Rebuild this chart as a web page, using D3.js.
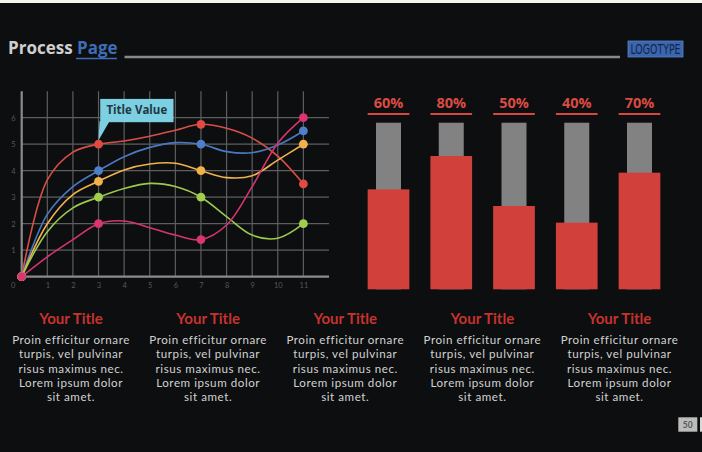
<!DOCTYPE html>
<html><head><meta charset="utf-8">
<script src="https://cdn.jsdelivr.net/npm/d3@7"></script>
<style>html,body{margin:0;padding:0;background:#0d0e10;overflow:hidden}</style>
</head><body><svg id="c" width="702" height="452"></svg>
<script>
// ---------- data ----------
const xValues = [0,1,2,3,4,5,6,7,8,9,10,11];
const redValues    = [0, 3.65, 4.7, 5.0, 5.12, 5.3, 5.53, 5.75, 5.6, 5.23, 4.55, 3.5];
const blueValues   = [0, 2.35, 3.4, 4.0, 4.53, 4.88, 5.06, 5.0, 4.72, 4.68, 4.97, 5.5];
const orangeValues = [0, 2.0, 3.1, 3.6, 4.03, 4.25, 4.28, 4.0, 3.74, 3.81, 4.4, 5.0];
const greenValues  = [0, 1.7, 2.6, 3.0, 3.33, 3.52, 3.4, 3.0, 2.27, 1.57, 1.45, 2.0];
const pinkValues   = [0, 0.75, 1.4, 2.0, 2.1, 1.85, 1.57, 1.4, 1.95, 3.4, 5.04, 6.0];
const markedX = [0,3,7,11];
const xTickLabels = ["1","2","3","4","5","6","7","8","9","10","11"];
const yTickLabels = ["1","2","3","4","5","6"];
const tooltipLabel = "Title Value";

const barCategories = ["c1","c2","c3","c4","c5"];
const barValues = [60,80,50,40,70];

const columnTitles = ["Your Title","Your Title","Your Title","Your Title","Your Title"];
const columnBody = ["Proin efficitur ornare","turpis, vel pulvinar","risus maximus nec.","Lorem ipsum dolor","sit amet."];

const pageTitleA = "Process";
const pageTitleB = "Page";
const logoText = "LOGOTYPE";
const pageNumber = "50";

// ---------- drawing ----------
const svg = d3.select("#c");
const BG = "#0d0e10";
svg.append("rect").attr("width",702).attr("height",452).attr("fill",BG);
svg.append("rect").attr("width",702).attr("height",3).attr("fill","#f2f6ee");

// header
const hdr = svg.append("text").attr("x",8).attr("y",54)
  .attr("font-family","'Open Sans'").attr("font-weight",700).attr("font-size",17);
hdr.append("tspan").attr("fill","#cfcfcf").text(pageTitleA + " ");
hdr.append("tspan").attr("fill","#3f6cb6").text(pageTitleB);
svg.append("line").attr("x1",76).attr("x2",117).attr("y1",58.5).attr("y2",58.5)
  .attr("stroke","#3f6cb6").attr("stroke-width",1.6);
svg.append("line").attr("x1",124.5).attr("x2",620).attr("y1",57).attr("y2",57)
  .attr("stroke","#8a8a8a").attr("stroke-width",2.4);
svg.append("rect").attr("x",628).attr("y",41).attr("width",55).attr("height",16)
  .attr("fill","#3a66b0").attr("stroke","#5a82c4").attr("stroke-width",0.8);
svg.append("text").attr("x",655.5).attr("y",54).attr("text-anchor","middle")
  .attr("font-family","'DejaVu Sans Condensed','Liberation Sans Narrow',sans-serif")
  .attr("font-size",13.5).attr("fill","#15244a")
  .attr("textLength",50).attr("lengthAdjust","spacingAndGlyphs").text(logoText);

// ---------- line chart ----------
const x = d3.scaleLinear().domain([0,12]).range([21.7, 329]);
const y = d3.scaleLinear().domain([0,7]).range([276.7, 91.2]);
const g = svg.append("g");
const gridColor = "#5e5e5e";

g.selectAll(".vg").data(d3.range(1,12)).join("line")
  .attr("x1",d=>x(d)).attr("x2",d=>x(d)).attr("y1",y(7)).attr("y2",y(0))
  .attr("stroke",gridColor).attr("stroke-width",1.2);
g.selectAll(".hg").data(d3.range(1,7)).join("line")
  .attr("x1",x(0)).attr("x2",x(12)).attr("y1",d=>y(d)).attr("y2",d=>y(d))
  .attr("stroke",gridColor).attr("stroke-width",1.2);
g.append("line").attr("x1",x(0)).attr("x2",x(0)).attr("y1",y(7)).attr("y2",y(0))
  .attr("stroke","#8c8c8c").attr("stroke-width",2.2);
g.append("line").attr("x1",x(0)-1).attr("x2",x(12)).attr("y1",y(0)).attr("y2",y(0))
  .attr("stroke","#8c8c8c").attr("stroke-width",2.2);

const yAxis = d3.axisLeft(y).tickValues(yTickLabels.map(Number)).tickSize(0).tickPadding(0).tickFormat(d3.format("d"));
const ya = g.append("g").attr("transform",`translate(${x(0)-6},0)`).call(yAxis);
const xAxis = d3.axisBottom(x).tickValues(xTickLabels.map(Number)).tickSize(0).tickPadding(0).tickFormat(d3.format("d"));
const xa = g.append("g").attr("transform",`translate(0,${y(0)+11})`).call(xAxis);
[ya,xa].forEach(a=>{
  a.select(".domain").remove();
  a.selectAll("text").attr("fill","#575757").attr("font-size",7.5).attr("font-family","Lato");
});
ya.selectAll("text").attr("dy","0.32em");
xa.selectAll("text").attr("dy","0");
g.append("text").attr("x",x(0)-8.5).attr("y",y(0)+11).attr("text-anchor","middle")
  .attr("fill","#575757").attr("font-size",7.5).attr("font-family","Lato").text("0");

const series = [
  {values: redValues,    color:"#d94f47", dot:"#e04a42"},
  {values: blueValues,   color:"#4a79c2", dot:"#4f7fcb"},
  {values: orangeValues, color:"#f0b24e", dot:"#f3b14a"},
  {values: greenValues,  color:"#9dca4d", dot:"#a0cf4e"},
  {values: pinkValues,   color:"#d5356f", dot:"#d93573"}
];
const line = d3.line().x((d,i)=>x(xValues[i])).y(d=>y(d)).curve(d3.curveCatmullRom.alpha(0.5));
series.forEach(s=>{
  g.append("path").attr("d",line(s.values)).attr("fill","none")
    .attr("stroke",s.color).attr("stroke-width",1.6);
});
series.forEach(s=>{
  g.selectAll(null).data(markedX).join("circle")
    .attr("cx",d=>x(d)).attr("cy",d=>y(s.values[xValues.indexOf(d)]))
    .attr("r",4.4).attr("fill",s.dot);
});

// tooltip
const ax = x(3), ay = y(redValues[3]);
const tt = g.append("g");
tt.append("path").attr("d",`M${ax+1},${ay-23} L${ax+11},${ay-23} L${ax},${ay-4} Z`).attr("fill","#7dcfe2");
tt.append("rect").attr("x",ax+1.7).attr("y",ay-45.3).attr("width",73.3).attr("height",23.3).attr("fill","#7dcfe2");
tt.append("text").attr("x",ax+38.3).attr("y",ay-29.8).attr("text-anchor","middle")
  .attr("font-family","'Open Sans'").attr("font-weight",700).attr("font-size",11.5)
  .attr("fill","#223744").text(tooltipLabel);

// ---------- bar chart ----------
const bx = d3.scalePoint().domain(barCategories).range([388.5, 639.5]);
const by = d3.scaleLinear().domain([0,100]).range([289.3, 122.7]);
const redW = 41.7, grayW = 25;
const bg = svg.append("g");
bg.selectAll(".track").data(barCategories).join("rect")
  .attr("x",d=>bx(d)-grayW/2).attr("width",grayW)
  .attr("y",by(100)).attr("height",by(0)-by(100)).attr("fill","#828282");
bg.selectAll(".bar").data(barValues).join("rect")
  .attr("x",(d,i)=>bx(barCategories[i])-redW/2).attr("width",redW)
  .attr("y",d=>by(d)).attr("height",d=>by(0)-by(d)).attr("fill","#d2403c");
bg.selectAll(".ul").data(barCategories).join("line")
  .attr("x1",d=>bx(d)-redW/2).attr("x2",d=>bx(d)+redW/2)
  .attr("y1",by(100)-8.7).attr("y2",by(100)-8.7)
  .attr("stroke","#d5473f").attr("stroke-width",2.2);
bg.selectAll(".lbl").data(barValues).join("text")
  .attr("x",(d,i)=>bx(barCategories[i])).attr("y",by(100)-15)
  .attr("text-anchor","middle").attr("font-family","'Open Sans'").attr("font-weight",700)
  .attr("font-size",14.5).attr("fill","#db4b43").text(d=>d+"%");

// ---------- text columns ----------
const cx = d3.scalePoint().domain(d3.range(columnTitles.length)).range([71, 619.5]);
const tg = svg.append("g");
columnTitles.forEach((t,i)=>{
  tg.append("text").attr("x",cx(i)).attr("y",324).attr("text-anchor","middle")
    .attr("font-family","Lato").attr("font-weight",700).attr("font-size",15)
    .attr("fill","#c6332d").text(t);
  columnBody.forEach((ln,j)=>{
    tg.append("text").attr("x",cx(i)).attr("y",344.3 + j*14.1).attr("text-anchor","middle")
      .attr("font-family","Lato").attr("font-size",11.6).attr("letter-spacing",0.55)
      .attr("fill","#d2d2d2").text(ln);
  });
});

// page number
svg.append("rect").attr("x",678.3).attr("y",417.3).attr("width",19).attr("height",14.4).attr("fill","#bcbcbc");
svg.append("text").attr("x",687.8).attr("y",427.5).attr("text-anchor","middle")
  .attr("font-family","Lato").attr("font-weight",700).attr("font-size",8.5).attr("fill","#555").text(pageNumber);
svg.append("rect").attr("x",700).attr("y",417.3).attr("width",4).attr("height",14.4).attr("fill","#d8d8d8");
</script></body></html>
